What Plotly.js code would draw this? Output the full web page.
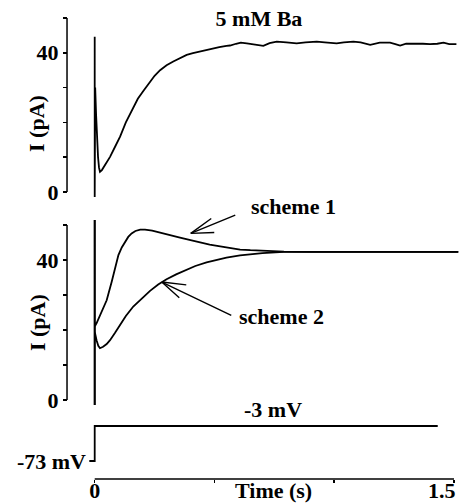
<!DOCTYPE html>
<html>
<head>
<meta charset="utf-8">
<script src="https://cdn.plot.ly/plotly-3.0.1.min.js"></script>
<style>html,body{margin:0;padding:0;background:#fff;}#chart{width:470px;height:504px;}</style>
</head>
<body>
<div id="chart"></div>
<script>
// ---- Data ----
// Top panel: measured current in 5 mM Ba
const timeBa = [0, 0, 0.002, 0.006, 0.010, 0.014, 0.018, 0.022, 0.030, 0.045, 0.064, 0.085, 0.106, 0.13, 0.161, 0.18, 0.203, 0.231, 0.25, 0.273, 0.30, 0.328, 0.355, 0.384, 0.41, 0.44, 0.47, 0.495, 0.52, 0.55, 0.565, 0.59, 0.61, 0.635, 0.66, 0.704, 0.73, 0.76, 0.80, 0.843, 0.88, 0.927, 0.96, 1.01, 1.04, 1.08, 1.11, 1.15, 1.19, 1.233, 1.255, 1.275, 1.30, 1.344, 1.37, 1.40, 1.43, 1.456, 1.48, 1.51];
const currentBa = [44.6, -1.4, 30, 22, 15, 10, 7, 5.8, 6.3, 8, 10.1, 13, 15.9, 20, 24.5, 26.8, 29.0, 31.7, 33.4, 35.0, 36.4, 37.5, 38.5, 39.4, 39.9, 40.4, 40.9, 41.3, 41.6, 42.0, 42.1, 42.6, 42.9, 42.7, 42.5, 42.0, 42.8, 43.2, 43.0, 42.7, 43.0, 43.2, 43.0, 42.7, 43.0, 43.2, 43.0, 42.3, 42.9, 42.9, 42.5, 42.1, 42.6, 42.7, 42.6, 42.5, 42.6, 42.9, 42.5, 42.5];

// Middle panel: model simulations
const timeScheme1 = [0, 0, 0, 0.008, 0.02, 0.035, 0.05, 0.071, 0.085, 0.099, 0.113, 0.127, 0.14, 0.154, 0.17, 0.19, 0.21, 0.24, 0.273, 0.31, 0.356, 0.40, 0.44, 0.48, 0.524, 0.565, 0.607, 0.65, 0.70, 0.79, 0.90, 1.0, 1.2, 1.4, 1.518];
const currentScheme1 = [51.4, -1.4, 21, 22, 24, 26, 28.5, 33.8, 38, 41.4, 43.6, 45.2, 46.6, 47.6, 48.3, 48.7, 48.7, 48.4, 47.8, 47.1, 46.4, 45.7, 45.0, 44.4, 43.9, 43.4, 43.0, 42.8, 42.6, 42.4, 42.3, 42.3, 42.3, 42.3, 42.3];
const timeScheme2 = [0, 0, 0, 0.008, 0.015, 0.022, 0.035, 0.05, 0.064, 0.085, 0.106, 0.13, 0.161, 0.195, 0.231, 0.265, 0.30, 0.34, 0.384, 0.42, 0.467, 0.51, 0.55, 0.607, 0.65, 0.70, 0.79, 0.90, 1.0, 1.2, 1.4, 1.518];
const currentScheme2 = [51.4, -1.4, 19.5, 17, 15.5, 14.8, 15.2, 16.0, 17.1, 19.2, 21.4, 24, 26.7, 29, 31.2, 33, 34.5, 35.9, 37.2, 38.3, 39.3, 40.1, 40.7, 41.3, 41.7, 42.0, 42.3, 42.3, 42.3, 42.3, 42.3, 42.3];

// Bottom panel: voltage protocol
const timeVoltage = [-0.0225, 0, 0, 1.432];
const voltage = [-73, -73, -3, -3];

// Tick labels
const xTickVals = [0, 0.5, 1, 1.5];
const xTickText = ['0', '', '', ''];
const xEndLabel = '1.5';
const yTickVals = [0, 10, 20, 30, 40, 50];
const yTickText = ['0', '', '', '', '40', ''];

// ---- Chart ----
const lineStyle = {color: '#000', width: 1.8};
const traces = [
  {x: timeBa, y: currentBa, xaxis: 'x', yaxis: 'y', mode: 'lines', line: lineStyle, name: '5 mM Ba'},
  {x: timeScheme1, y: currentScheme1, xaxis: 'x', yaxis: 'y2', mode: 'lines', line: lineStyle, name: 'scheme 1'},
  {x: timeScheme2, y: currentScheme2, xaxis: 'x', yaxis: 'y2', mode: 'lines', line: lineStyle, name: 'scheme 2'},
  {x: timeVoltage, y: voltage, xaxis: 'x', yaxis: 'y3', mode: 'lines', line: lineStyle, name: 'voltage'}
];

const fontFam = 'Liberation Serif, serif';
const txtFont = {family: fontFam, size: 22, color: '#000', weight: 'bold'};
const yCommon = {
  anchor: 'free', position: 0.1426, showline: false, showgrid: false, zeroline: false,
  ticks: 'outside', ticklen: 4, tickwidth: 1.5, tickcolor: '#000',
  tickvals: yTickVals, ticktext: yTickText, tickfont: txtFont, fixedrange: true
};

// arrow helper: shaft + two open barbs, all drawn as annotation arrows
function arrowParts(x, y, yref, shaft, barbA, barbB) {
  return [shaft, barbA, barbB].map(function (d) {
    return {text: '', xref: 'x', yref: yref, x: x, y: y, ax: d[0], ay: d[1],
            showarrow: true, arrowhead: 0, arrowwidth: 1.4, arrowcolor: '#000', standoff: 0, startstandoff: 0};
  });
}

const layout = {
  width: 470, height: 504,
  margin: {l: 0, r: 0, t: 0, b: 0},
  paper_bgcolor: '#fff', plot_bgcolor: 'rgba(0,0,0,0)',
  showlegend: false,
  font: txtFont,
  title: {text: '5 mM Ba', x: 0.551, xanchor: 'center', y: 0.964, yanchor: 'middle', yref: 'container', font: txtFont},
  xaxis: {
    domain: [0.1862, 0.9762], range: [-0.03, 1.52], anchor: 'free', position: 0.0496,
    showline: false, showgrid: false, zeroline: false,
    ticks: 'outside', ticklen: 3, tickwidth: 1.5, tickcolor: '#000',
    tickvals: xTickVals, ticktext: xTickText, tickfont: txtFont, ticklabelstandoff: -11,
    ticklabeloverflow: 'allow', fixedrange: true
  },
  yaxis: Object.assign({}, yCommon, {domain: [0.5983, 0.9712], range: [-3, 51]}),
  yaxis2: Object.assign({}, yCommon, {domain: [0.1855, 0.5813], range: [-3, 54]}),
  yaxis3: {
    domain: [0.0784, 0.1677], range: [-80, 10], anchor: 'free', position: 0.183,
    showline: false, showgrid: false, zeroline: false, ticks: '',
    tickvals: [-73], ticktext: ['-73 mV'], tickfont: txtFont, fixedrange: true
  },
  shapes: [
    {type: 'line', xref: 'x', x0: 0, x1: 1.5, yref: 'paper', y0: 0.0496, y1: 0.0496, line: {color: '#000', width: 1.5}},
    {type: 'line', xref: 'paper', x0: 0.1426, x1: 0.1426, yref: 'y', y0: 0, y1: 50, line: {color: '#000', width: 1.5}},
    {type: 'line', xref: 'paper', x0: 0.1426, x1: 0.1426, yref: 'y2', y0: 0, y1: 50, line: {color: '#000', width: 1.5}}
  ],
  annotations: [
    {text: 'I (pA)', xref: 'paper', yref: 'paper', x: 0.0787, y: 0.756, textangle: -90, showarrow: false, xanchor: 'center', yanchor: 'middle'},
    {text: 'I (pA)', xref: 'paper', yref: 'paper', x: 0.0787, y: 0.361, textangle: -90, showarrow: false, xanchor: 'center', yanchor: 'middle'},
    {text: 'scheme 1', xref: 'paper', yref: 'paper', x: 0.5298, y: 0.5893, xanchor: 'left', yanchor: 'middle', showarrow: false},
    {text: 'scheme 2', xref: 'paper', yref: 'paper', x: 0.5043, y: 0.373, xanchor: 'left', yanchor: 'middle', showarrow: false},
    {text: '-3 mV', xref: 'x', yref: 'y3', x: 0.745, y: -3, xanchor: 'center', yanchor: 'bottom', yshift: 2, showarrow: false},
    {text: 'Time (s)', xref: 'paper', yref: 'paper', x: 0.581, y: 0.0258, xanchor: 'center', yanchor: 'middle', showarrow: false},
    {text: xEndLabel, xref: 'x', yref: 'paper', x: xTickVals[3], y: 0.0258, xanchor: 'right', xshift: 4, yanchor: 'middle', showarrow: false}
  ].concat(
    arrowParts(0.401, 47.6, 'y2', [46, -19], [22, -16], [25, -1]),
    arrowParts(0.28, 33.7, 'y2', [71, 34], [26, 3], [19, 17])
  )
};

Plotly.newPlot('chart', traces, layout, {displayModeBar: false, staticPlot: true});
</script>
</body>
</html>
